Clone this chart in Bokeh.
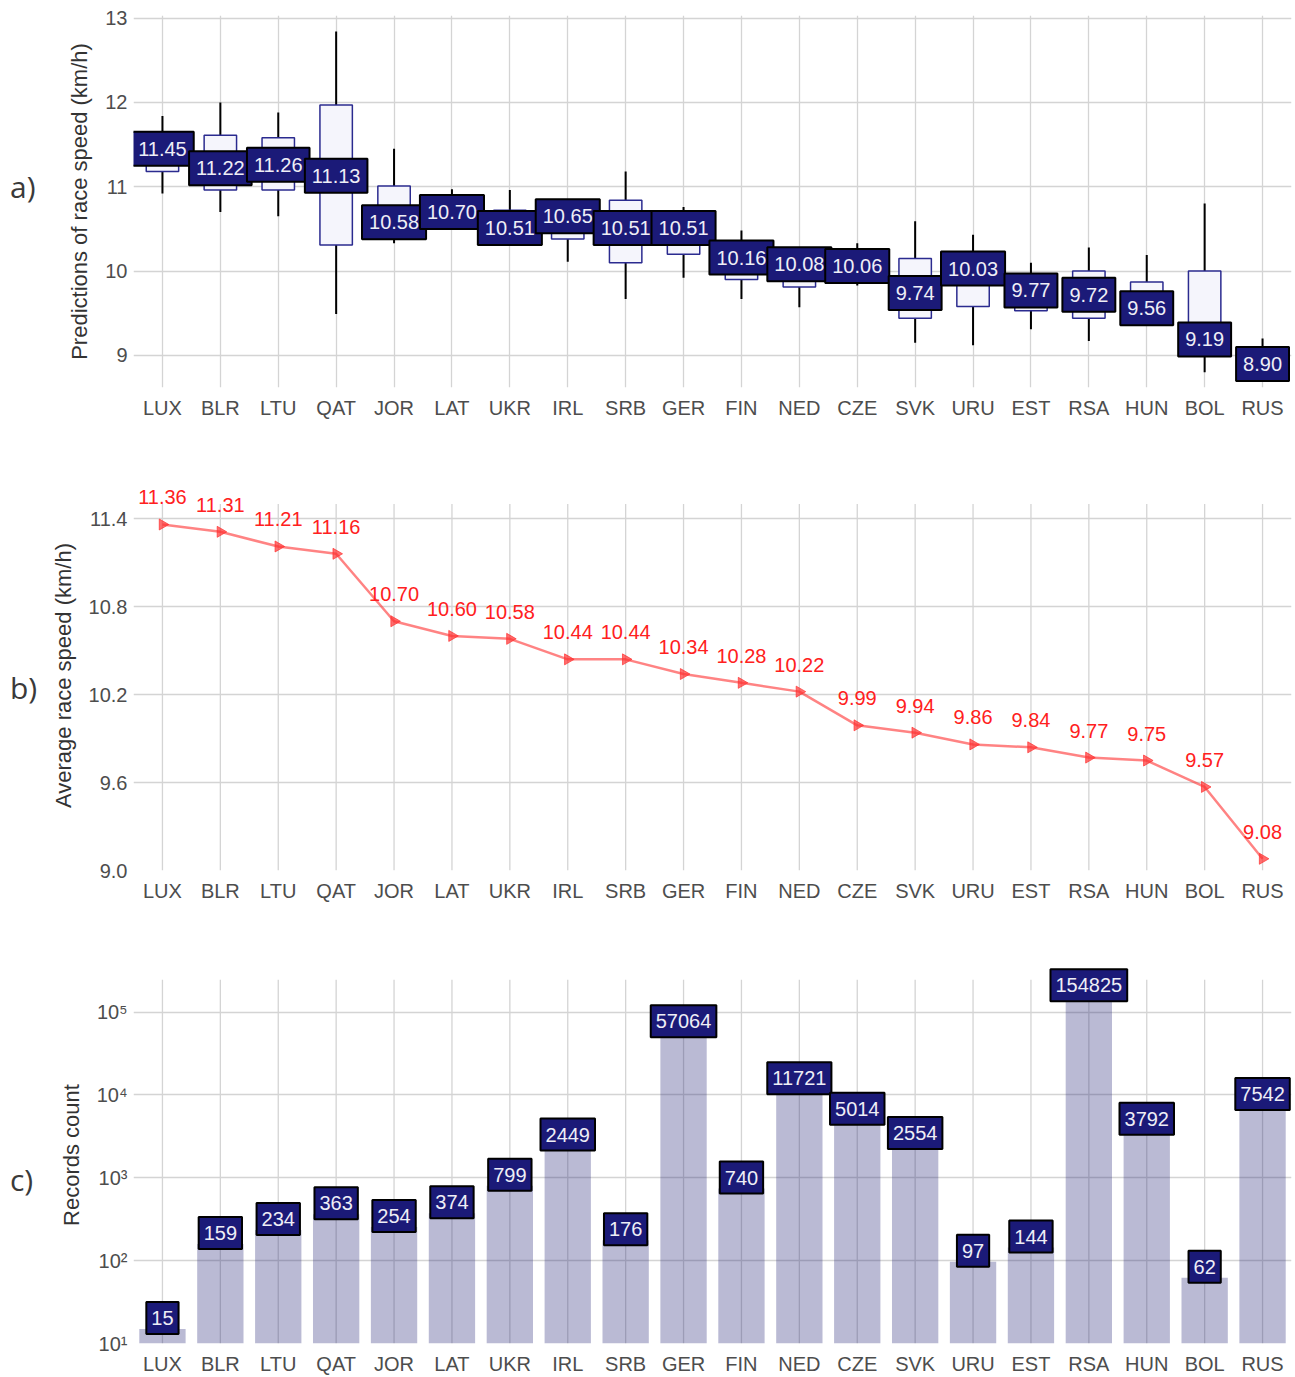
import numpy as np
from bokeh.plotting import figure
from bokeh.layouts import column, row
from bokeh.models import (ColumnDataSource, LabelSet, Label, FactorRange, Range1d,
                          FixedTicker, NumeralTickFormatter, Div)
from bokeh.core.properties import value
from bokeh.embed import file_html
from bokeh.resources import INLINE

countries = ["LUX", "BLR", "LTU", "QAT", "JOR", "LAT", "UKR", "IRL", "SRB", "GER",
             "FIN", "NED", "CZE", "SVK", "URU", "EST", "RSA", "HUN", "BOL", "RUS"]

# panel a: predictions (box plot)
pred_median = [11.45, 11.22, 11.26, 11.13, 10.58, 10.70, 10.51, 10.65, 10.51, 10.51,
               10.16, 10.08, 10.06, 9.74, 10.03, 9.77, 9.72, 9.56, 9.19, 8.90]
pred_q3 = [11.62, 11.61, 11.58, 11.97, 11.01, 10.82, 10.72, 10.75, 10.84, 10.68,
           10.30, 10.20, 10.15, 10.15, 10.20, 9.90, 10.00, 9.87, 10.00, 9.00]
pred_q1 = [11.18, 10.96, 10.96, 10.31, 10.40, 10.58, 10.40, 10.38, 10.10, 10.20,
           9.90, 9.81, 9.95, 9.44, 9.58, 9.53, 9.44, 9.45, 9.10, 8.80]
pred_hi = [11.84, 12.00, 11.88, 12.84, 11.45, 10.97, 10.96, 10.82, 11.18, 10.76,
           10.48, 10.25, 10.33, 10.59, 10.43, 10.10, 10.28, 10.19, 10.80, 9.20]
pred_lo = [10.92, 10.70, 10.65, 9.49, 10.33, 10.52, 10.33, 10.11, 9.67, 9.92,
           9.67, 9.57, 9.83, 9.15, 9.12, 9.31, 9.17, 9.40, 8.80, 8.72]

# panel b: average race speed
avg_speed = [11.36, 11.31, 11.21, 11.16, 10.70, 10.60, 10.58, 10.44, 10.44, 10.34,
             10.28, 10.22, 9.99, 9.94, 9.86, 9.84, 9.77, 9.75, 9.57, 9.08]

# panel c: records count
records = [15, 159, 234, 363, 254, 374, 799, 2449, 176, 57064,
           740, 11721, 5014, 2554, 97, 144, 154825, 3792, 62, 7542]

ticks_a = [9, 10, 11, 12, 13]
ticks_b = [9.0, 9.6, 10.2, 10.8, 11.4]
ticks_c = [10, 100, 1000, 10000, 100000]
ticks_c_labels = ["10¹", "10²", "10³", "10⁴", "10⁵"]

FONT = "Liberation Sans"
NAVY = "#1b1a78"
GRID = "#d4d4d4"
TAGW = 37
FW = 1256
LEFT = 96


def style(p, ylabel, xgrid=True):
    p.outline_line_color = None
    p.background_fill_color = "white"
    p.border_fill_color = "white"
    p.grid.grid_line_color = GRID
    p.grid.grid_line_width = 1.3
    if not xgrid:
        p.xgrid.grid_line_color = None
    for ax in p.axis:
        ax.axis_line_color = None
        ax.major_tick_line_color = None
        ax.minor_tick_line_color = None
        ax.major_label_text_font = FONT
        ax.major_label_text_font_size = "20px"
        ax.major_label_text_color = "#4d4d4d"
    p.xaxis.major_label_standoff = 3
    p.yaxis.major_label_standoff = 0
    p.yaxis.axis_label = ylabel
    p.yaxis.axis_label_text_font = FONT
    p.yaxis.axis_label_text_font_size = "22px"
    p.yaxis.axis_label_text_font_style = "normal"
    p.yaxis.axis_label_text_color = "#333333"
    p.yaxis.axis_label_standoff = 10


def tag(text, height, top):
    html = (f'<div style="margin-top:{top}px;padding-left:10px;font-size:30px;'
            f"line-height:38px;font-family:'Open Sans';color:#3a3a3a;"
            f'text-align:center;">{text}</div>')
    return Div(text=html, width=TAGW, height=height, margin=0)


def box_label(p, i, y, text, y_offset=0, padding=(7, 10)):
    # categorical (synthetic) coordinate of factor i is i + 0.5
    p.add_layout(Label(x=i + 0.5, y=y, text=text, y_offset=y_offset,
                       text_align="center", text_baseline="middle",
                       text_font=FONT, text_font_size="20px", text_color="#eeeef6",
                       background_fill_color=NAVY, border_line_color="black",
                       border_line_width=2, padding=padding))


# ---------------- panel a ----------------
H1 = 467
p1 = figure(width=FW, height=H1, x_range=FactorRange(*countries),
            y_range=Range1d(8.62, 13.03), output_backend="svg", toolbar_location=None,
            min_border_left=LEFT, min_border_right=2, min_border_top=15, min_border_bottom=80)
src_a = ColumnDataSource(dict(c=countries, med=pred_median, q1=pred_q1, q3=pred_q3,
                              lo=pred_lo, hi=pred_hi))
p1.segment(x0="c", y0="lo", x1="c", y1="hi", source=src_a, line_color="black", line_width=2)
p1.vbar(x="c", bottom="q1", top="q3", width=0.56, source=src_a,
        fill_color="#f5f5fc", line_color="#2b2b8f", line_width=1.5)
for i, m in enumerate(pred_median):
    box_label(p1, i, m, f"{m:.2f}")
style(p1, "Predictions of race speed (km/h)")
p1.yaxis.ticker = FixedTicker(ticks=ticks_a, minor_ticks=[])

# ---------------- panel b ----------------
H2 = 478
B_TOP_GRID = 11.5
p2 = figure(width=FW, height=H2, x_range=FactorRange(*countries),
            y_range=Range1d(9.0, 11.66), output_backend="svg", toolbar_location=None,
            min_border_left=LEFT, min_border_right=2, min_border_top=13, min_border_bottom=75)
src_b = ColumnDataSource(dict(c=countries, v=avg_speed, lbl=[f"{v:.2f}" for v in avg_speed],
                              g0=[9.0] * len(countries), g1=[B_TOP_GRID] * len(countries)))
p2.segment(x0="c", y0="g0", x1="c", y1="g1", source=src_b, line_color=GRID,
           line_width=1.3, level="underlay")
p2.line(x="c", y="v", source=src_b, line_color="#ff3030", line_alpha=0.6, line_width=2.5)
p2.scatter(x="c", y="v", source=src_b, marker="triangle", angle=-np.pi / 2, size=11,
           fill_color="#ff3030", fill_alpha=0.7, line_color="#ff3030", line_alpha=0.7)
p2.add_layout(LabelSet(x="c", y="v", text="lbl", source=src_b, text_align="center",
                       text_baseline="middle", y_offset=27, text_font=value(FONT),
                       text_font_size="20px", text_color="#ff2020"))
style(p2, "Average race speed (km/h)", xgrid=False)
p2.yaxis.ticker = FixedTicker(ticks=ticks_b, minor_ticks=[])
p2.yaxis.formatter = NumeralTickFormatter(format="0.0")

# ---------------- panel c ----------------
H3 = 432
C_TOP_GRID = 10 ** 5.39
p3 = figure(width=FW, height=H3, x_range=FactorRange(*countries), y_axis_type="log",
            y_range=Range1d(10, 10 ** 5.55), output_backend="svg", toolbar_location=None,
            min_border_left=LEFT, min_border_right=2, min_border_top=21, min_border_bottom=32)
src_c = ColumnDataSource(dict(c=countries, v=records,
                              g0=[10] * len(countries), g1=[C_TOP_GRID] * len(countries)))
p3.segment(x0="c", y0="g0", x1="c", y1="g1", source=src_c, line_color=GRID,
           line_width=1.3, level="underlay")
p3.vbar(x="c", bottom=10, top="v", width=0.8, source=src_c,
        fill_color="#191970", fill_alpha=0.3, line_color=None)
for i, r in enumerate(records):
    box_label(p3, i, r, str(r), y_offset=11, padding=(5, 9))
style(p3, "Records count", xgrid=False)
p3.yaxis.ticker = FixedTicker(ticks=ticks_c, minor_ticks=[])
p3.yaxis.major_label_overrides = {t: s for t, s in zip(ticks_c, ticks_c_labels)}

layout = column(
    row(tag("a)", H1, 168), p1, spacing=0),
    row(tag("b)", H2, 202), p2, spacing=0),
    row(tag("c)", H3, 216), p3, spacing=0),
    spacing=0,
)
open("out.html", "w").write(file_html(layout, INLINE))
